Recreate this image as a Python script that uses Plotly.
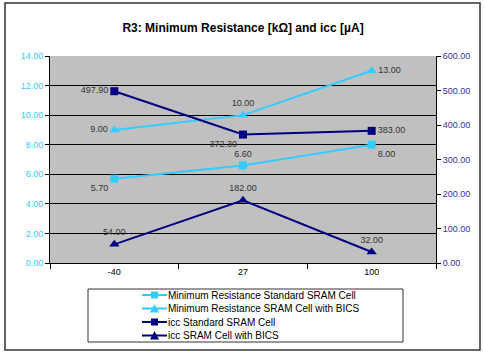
import plotly.graph_objects as go

categories = ["-40", "27", "100"]
mr_standard = [5.70, 6.60, 8.00]
mr_bics = [9.00, 10.00, 13.00]
icc_standard = [497.90, 372.30, 383.00]
icc_bics = [54.00, 182.00, 32.00]
series_names = [
    "Minimum Resistance Standard SRAM Cell",
    "Minimum Resistance SRAM Cell with BICS",
    "icc Standard SRAM Cell",
    "icc SRAM Cell with BICS",
]
left_ticks = [0, 2, 4, 6, 8, 10, 12, 14]
right_ticks = [0, 100, 200, 300, 400, 500, 600]

CYAN = "#33CCFF"
NAVY = "#000080"
W, H = 484, 352
L, R, T, B = 50, 48, 56, 89
PW, PH = W - L - R, H - T - B


def px(x):
    return (x - L) / PW


def py(y):
    return (H - B - y) / PH


lab_font = dict(family="Liberation Sans, Arial", size=9, color="#333333")

fig = go.Figure()
fig.add_trace(go.Scatter(
    x=categories, y=mr_standard, name=series_names[0], mode="lines+markers+text",
    line=dict(color=CYAN, width=2), marker=dict(symbol="square", size=8, color=CYAN),
    texttemplate="%{y:.2f}", textposition=["bottom left", "top center", "bottom right"],
    textfont=lab_font, yaxis="y", showlegend=False, cliponaxis=False))
fig.add_trace(go.Scatter(
    x=categories, y=mr_bics, name=series_names[1], mode="lines+markers+text",
    line=dict(color=CYAN, width=2), marker=dict(symbol="triangle-up", size=9, color=CYAN),
    texttemplate="%{y:.2f}", textposition=["middle left", "top center", "middle right"],
    textfont=lab_font, yaxis="y", showlegend=False, cliponaxis=False))
fig.add_trace(go.Scatter(
    x=categories, y=icc_standard, name=series_names[2], mode="lines+markers+text",
    line=dict(color=NAVY, width=2), marker=dict(symbol="square", size=8, color=NAVY),
    texttemplate="%{y:.2f}", textposition=["middle left", "bottom left", "middle right"],
    textfont=lab_font, yaxis="y2", showlegend=False, cliponaxis=False))
fig.add_trace(go.Scatter(
    x=categories, y=icc_bics, name=series_names[3], mode="lines+markers+text",
    line=dict(color=NAVY, width=2), marker=dict(symbol="triangle-up", size=9, color=NAVY),
    texttemplate="%{y:.2f}", textposition=["top center", "top center", "top center"],
    textfont=lab_font, yaxis="y2", showlegend=False, cliponaxis=False))

shapes = []
annotations = []
# outer chart border
shapes.append(dict(type="rect", xref="paper", yref="paper",
                   x0=px(5), x1=px(480), y0=py(350), y1=py(3),
                   line=dict(color="#333333", width=1.5), layer="below"))
# legend box
shapes.append(dict(type="rect", xref="paper", yref="paper",
                   x0=px(88), x1=px(403), y0=py(342), y1=py(289),
                   line=dict(color="#333333", width=1), fillcolor="white"))
rows = [295, 308.5, 322, 335.5]
colors = [CYAN, CYAN, NAVY, NAVY]
symbols = ["square", "triangle", "square", "triangle"]
for name, ry, c, s in zip(series_names, rows, colors, symbols):
    shapes.append(dict(type="line", xref="paper", yref="paper",
                       x0=px(142), x1=px(167), y0=py(ry), y1=py(ry),
                       line=dict(color=c, width=2)))
    if s == "square":
        shapes.append(dict(type="rect", xref="paper", yref="paper",
                           x0=px(151), x1=px(158), y0=py(ry + 3.5), y1=py(ry - 3.5),
                           line=dict(color=c, width=0), fillcolor=c))
    else:
        path = "M {},{} L {},{} L {},{} Z".format(
            px(150), py(ry + 4), px(159), py(ry + 4), px(154.5), py(ry - 4.5))
        shapes.append(dict(type="path", xref="paper", yref="paper", path=path,
                           line=dict(color=c, width=0), fillcolor=c))
    annotations.append(dict(text=name, xref="paper", yref="paper",
                            x=px(166), y=py(ry), xanchor="left", yanchor="middle",
                            showarrow=False,
                            font=dict(family="Liberation Sans, Arial", size=10, color="#000000")))

fig.update_layout(
    width=W, height=H,
    margin=dict(l=L, r=R, t=T, b=B),
    paper_bgcolor="white", plot_bgcolor="#C0C0C0",
    title=dict(text="<b>R3: Minimum Resistance [kΩ] and icc [µA]</b>", x=0.5, xref="paper",
               y=1 - 28 / H, yanchor="middle",
               font=dict(family="Liberation Sans, Arial", size=12, color="#000000")),
    xaxis=dict(type="category", range=[-0.5, 2.5], tickson="boundaries", ticks="outside", ticklen=5,
               tickcolor="#000000", showgrid=False, showline=True, linecolor="#000000",
               linewidth=1, tickfont=dict(family="Liberation Sans, Arial", size=9, color="#000000"),
               zeroline=False),
    yaxis=dict(range=[0, 14], tickvals=left_ticks, tickformat=".2f", ticks="outside",
               ticklen=4, tickcolor="#000000", showline=True, linecolor="#000000",
               showgrid=True, gridcolor="#000000", gridwidth=1, zeroline=False,
               tickfont=dict(family="Liberation Sans, Arial", size=9, color=CYAN)),
    yaxis2=dict(range=[0, 600], tickvals=right_ticks, tickformat=".2f", overlaying="y",
                side="right", ticks="outside", ticklen=4, tickcolor="#000000",
                showline=True, linecolor="#000000", showgrid=False, zeroline=False,
                tickfont=dict(family="Liberation Sans, Arial", size=9, color="#333399")),
    shapes=shapes, annotations=annotations, showlegend=False,
)

fig.write_html("out.html", config={"displayModeBar": False},
               post_script="document.body.style.margin='0';document.body.style.overflow='hidden';")
